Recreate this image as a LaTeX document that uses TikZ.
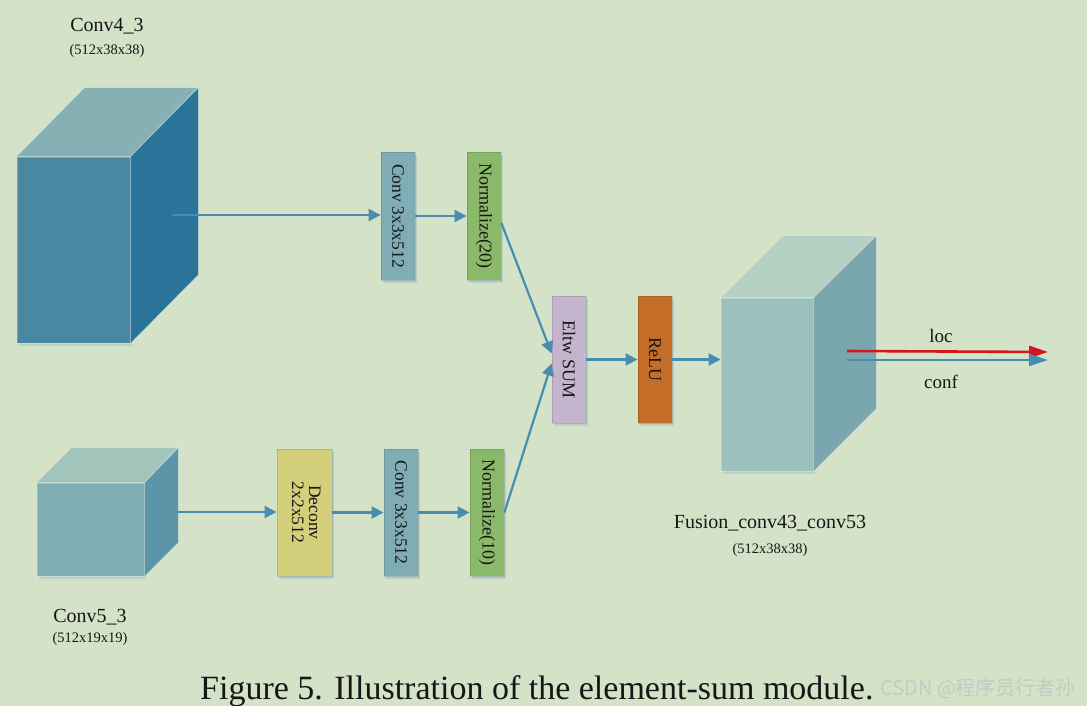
\documentclass[tikz,border=0pt]{standalone}
\usepackage{fontspec}
\setmainfont{Liberation Serif}
\newfontfamily\cjkfont{Noto Sans CJK SC}
\usetikzlibrary{arrows.meta}

\definecolor{bg}{RGB}{212,227,200}
\definecolor{flowc}{RGB}{72,140,176}
\definecolor{locc}{RGB}{214,20,28}
\definecolor{shadowc}{RGB}{184,208,200}
\definecolor{txt}{RGB}{22,22,22}
\definecolor{wmark}{RGB}{196,202,196}
% Conv4_3 block
\definecolor{bigfront}{RGB}{74,135,160}
\definecolor{bigside}{RGB}{42,115,153}
\definecolor{bigtop}{RGB}{135,176,180}
% Conv5_3 block
\definecolor{smfront}{RGB}{128,174,178}
\definecolor{smside}{RGB}{93,149,168}
\definecolor{smtop}{RGB}{162,196,187}
% fused block
\definecolor{fufront}{RGB}{156,193,188}
\definecolor{fuside}{RGB}{122,166,174}
\definecolor{futop}{RGB}{180,208,194}
% layer boxes
\definecolor{convc}{RGB}{127,172,181}
\definecolor{normc}{RGB}{139,185,106}
\definecolor{eltwc}{RGB}{196,180,206}
\definecolor{reluc}{RGB}{196,109,40}
\definecolor{deconvc}{RGB}{212,207,122}

\begin{document}
\begin{tikzpicture}[x=1pt,y=-1pt,
  font=\fontsize{18}{20}\selectfont, text=txt,
  blk/.style={rectangle, inner sep=0pt, draw=black, draw opacity=0.12, line width=0.8pt,
    preaction={fill=shadowc, transform canvas={shift={(1.5pt,-3pt)}}}},
  cubefront/.style={rectangle, inner sep=0pt, draw=white, draw opacity=0.25, line width=0.8pt,
    preaction={fill=shadowc, transform canvas={shift={(1.5pt,-3pt)}}}},
  cubeface/.style={draw=white, draw opacity=0.25, line width=0.8pt},
  flow/.style={draw=flowc, line width=2.2pt, -{Triangle[length=12pt,width=12pt]}},
  outflow/.style={line width=2.6pt, -{Triangle[length=19pt,width=12pt]}},
  lbl/.style={inner sep=0pt, anchor=base, font=\fontsize{20}{22}\selectfont},
  dims/.style={inner sep=0pt, anchor=base, font=\fontsize{14.5}{16}\selectfont}]

\fill[bg] (0,0) rectangle (1087,706);
\useasboundingbox (0,0) rectangle (1087,706);

% ---- Conv4_3 feature block ----
\node[cubefront, fill=bigfront, minimum width=113, minimum height=186] (c43) at (73.5,250) {};
\fill[bigside, cubeface] (c43.north east) -- ++(68,-69) -- ++(0,187) -- (c43.south east) -- cycle;
\fill[bigtop, cubeface] (c43.north west) -- ++(68,-69) -- ++(113,0) -- (c43.north east) -- cycle;
\node[lbl] (c43name) at (107,32) {Conv4\_3};
\node[dims] (c43dims) at (107,55) {(512x38x38)};

% ---- Conv5_3 feature block ----
\node[cubefront, fill=smfront, minimum width=107, minimum height=93] (c53) at (90.5,529.5) {};
\fill[smside, cubeface] (c53.north east) -- ++(34,-35) -- ++(0,95) -- (c53.south east) -- cycle;
\fill[smtop, cubeface] (c53.north west) -- ++(35,-35) -- ++(106,0) -- (c53.north east) -- cycle;
\node[lbl] (c53name) at (90,622) {Conv5\_3};
\node[dims] (c53dims) at (90,642) {(512x19x19)};

% ---- fused output block ----
\node[cubefront, fill=fufront, minimum width=92, minimum height=173] (fus) at (767,384.5) {};
\fill[fuside, cubeface] (fus.north east) -- ++(63,-62) -- ++(0,173) -- (fus.south east) -- cycle;
\fill[futop, cubeface] (fus.north west) -- ++(62,-62) -- ++(93,0) -- (fus.north east) -- cycle;
\node[lbl] (fusname) at (770,528) {Fusion\_conv43\_conv53};
\node[dims] (fusdims) at (770,553) {(512x38x38)};

% ---- upper branch ----
\node[blk, fill=convc, minimum width=34, minimum height=128, font=\fontsize{17.5}{19}\selectfont]
  (convA) at (398,216) {\rotatebox{-90}{Conv 3x3x512}};
\node[blk, fill=normc, minimum width=34, minimum height=128, font=\fontsize{18}{20}\selectfont]
  (normA) at (484,216) {\rotatebox{-90}{Normalize(20)}};

% ---- lower branch ----
\node[blk, fill=deconvc, minimum width=55, minimum height=127, font=\fontsize{17.5}{19}\selectfont]
  (deconv) at (304.5,512.5) {\rotatebox{-90}{\begin{tabular}{@{}c@{}}Deconv\\[-2pt]2x2x512\end{tabular}}};
\node[blk, fill=convc, minimum width=34, minimum height=127, font=\fontsize{17.5}{19}\selectfont]
  (convB) at (401,512.5) {\rotatebox{-90}{Conv 3x3x512}};
\node[blk, fill=normc, minimum width=34, minimum height=127, font=\fontsize{18}{20}\selectfont]
  (normB) at (487,512.5) {\rotatebox{-90}{Normalize(10)}};

% ---- fusion ----
\node[blk, fill=eltwc, minimum width=34, minimum height=127] (eltw) at (569,359.5) {\rotatebox{-90}{Eltw SUM}};
\node[blk, fill=reluc, minimum width=34, minimum height=127] (relu) at (655,359.5) {\rotatebox{-90}{ReLU}};

% ---- connectors ----
\coordinate (c43out) at (172,215);
\coordinate (c53out) at (177,512);
\draw[flow] (c43out) -- (c43out -| convA.west);
\draw[flow] (convA) -- (normA);
\draw[flow] (c53out) -- (c53out -| deconv.west);
\draw[flow] (deconv) -- (convB);
\draw[flow] (convB) -- (normB);
\draw[flow] ([yshift=-7pt]normA.east) -- ([yshift=6pt]eltw.west);
\draw[flow] (normB.east) -- ([yshift=-4pt]eltw.west);
\draw[flow] (eltw) -- (relu);
\draw[flow] (relu.east) -- (relu.east -| fus.west);

% ---- outputs ----
\coordinate (locS) at (847,351);
\coordinate (locE) at (1048,352);
\coordinate (confS) at (847,360);
\coordinate (confE) at (1048,360);
\draw[outflow, draw=locc, fill=locc] (locS) -- (locE);
\draw[outflow, draw=flowc, fill=flowc] (confS) -- (confE);
\node[lbl, font=\fontsize{19}{20}\selectfont] (loctxt) at (941,342) {loc};
\node[lbl, font=\fontsize{19}{20}\selectfont] (conftxt) at (941,388) {conf};

% ---- caption ----
\node[inner sep=0pt, anchor=base west, font=\fontsize{34}{36}\selectfont] (cap) at (200,699)
  {Figure 5. Illustration of the element-sum module.};
\node[inner sep=0pt, anchor=base west, text=wmark, font=\cjkfont\fontsize{20}{22}\selectfont]
  (wm) at (880,695) {CSDN @程序员行者孙};
\end{tikzpicture}
\end{document}
